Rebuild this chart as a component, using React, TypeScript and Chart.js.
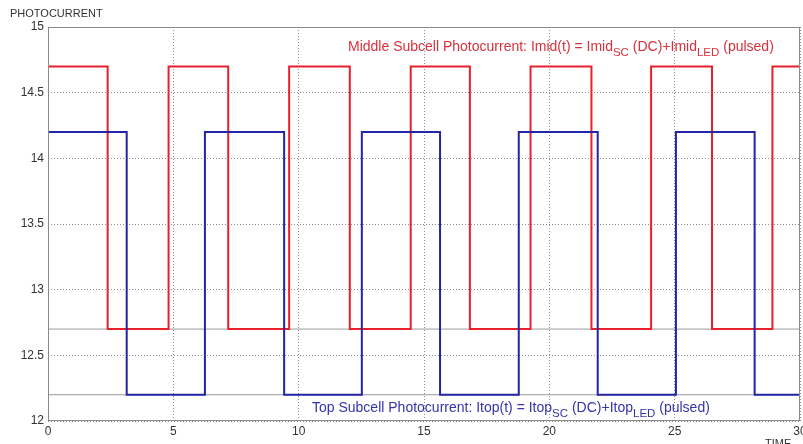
import React, { useEffect, useRef } from "react";
import { Chart, registerables } from "chart.js";
Chart.register(...registerables);

// Middle subcell (red) transition times and levels
const redTimes = [0, 2.38, 4.81, 7.19, 9.62, 12.04, 14.47, 16.83, 19.25, 21.68, 24.06, 26.49, 28.9, 30];
const redLevels = [14.7, 12.7, 14.7, 12.7, 14.7, 12.7, 14.7, 12.7, 14.7, 12.7, 14.7, 12.7, 14.7, 14.7];
// Top subcell (blue) transition times and levels
const blueTimes = [0, 3.14, 6.26, 9.42, 12.52, 15.64, 18.78, 21.93, 25.05, 28.19, 30];
const blueLevels = [14.2, 12.2, 14.2, 12.2, 14.2, 12.2, 14.2, 12.2, 14.2, 12.2, 12.2];
// DC reference levels
const refLevels = [12.7, 12.2];
const xRange = [0, 30];
const xTicks = [0, 5, 10, 15, 20, 25, 30];
const yTicks = [12, 12.5, 13, 13.5, 14, 14.5, 15];

const yTitle = "PHOTOCURRENT";
const xTitle = "TIME";
const redLabel: [string, boolean][] = [
  ["Middle Subcell Photocurrent: Imid(t) = Imid", false],
  ["SC", true],
  [" (DC)+Imid", false],
  ["LED", true],
  [" (pulsed)", false],
];
const blueLabel: [string, boolean][] = [
  ["Top Subcell Photocurrent: Itop(t) = Itop", false],
  ["SC", true],
  [" (DC)+Itop", false],
  ["LED", true],
  [" (pulsed)", false],
];

const FONT = "'Liberation Sans', Arial, sans-serif";
const RED = "#e8202c";
const BLUE = "#2424a6";

function drawRich(ctx: CanvasRenderingContext2D, x: number, y: number, segs: [string, boolean][], color: string) {
  ctx.fillStyle = color;
  ctx.textBaseline = "alphabetic";
  ctx.textAlign = "left";
  let cx = x;
  for (const [t, sub] of segs) {
    ctx.font = sub ? `11.5px ${FONT}` : `14px ${FONT}`;
    ctx.fillText(t, cx, sub ? y + 5 : y);
    cx += ctx.measureText(t).width;
  }
}

const overlay = {
  id: "overlay",
  afterDraw(chart: any) {
    const { ctx, chartArea: a } = chart;
    ctx.save();
    ctx.setLineDash([]);
    ctx.strokeStyle = "#8a8a8a";
    ctx.lineWidth = 1;
    ctx.strokeRect(Math.round(a.left) + 0.5, Math.round(a.top) + 0.5, Math.round(a.width) - 1, Math.round(a.height) - 1);
    ctx.fillStyle = "#333";
    ctx.font = `11px ${FONT}`;
    ctx.textAlign = "left";
    ctx.textBaseline = "alphabetic";
    ctx.fillText(yTitle, 10, 17);
    ctx.textBaseline = "top";
    ctx.fillText(xTitle, 765, 438);
    drawRich(ctx, 348, 51, redLabel, "#d9303c");
    drawRich(ctx, 312, 412, blueLabel, "#3434a8");
    ctx.restore();
  },
};

export default function App() {
  const ref = useRef<HTMLCanvasElement>(null);
  useEffect(() => {
    document.body.style.margin = "0";
    const refSets = refLevels.map((lv) => ({
      data: xRange.map((x) => ({ x, y: lv })),
      borderColor: "#9a9a9a",
      borderWidth: 1,
      pointRadius: 0,
      order: 3,
    }));
    const chart = new Chart(ref.current!, {
      type: "line",
      data: {
        datasets: [
          ...refSets,
          {
            data: blueTimes.map((x, i) => ({ x, y: blueLevels[i] })),
            borderColor: BLUE,
            borderWidth: 2,
            pointRadius: 0,
            stepped: true,
            order: 1,
          },
          {
            data: redTimes.map((x, i) => ({ x, y: redLevels[i] })),
            borderColor: RED,
            borderWidth: 2,
            pointRadius: 0,
            stepped: true,
            order: 2,
          },
        ] as any,
      },
      options: {
        animation: false,
        responsive: false,
        layout: { padding: { top: 27, right: 3, left: 0, bottom: 0 } },
        plugins: { legend: { display: false }, tooltip: { enabled: false } },
        scales: {
          x: {
            type: "linear",
            min: xRange[0],
            max: xRange[1],
            afterBuildTicks: (s: any) => {
              s.ticks = xTicks.map((v) => ({ value: v }));
            },
            afterFit: (s: any) => {
              s.height = 23;
              s.paddingLeft = 0;
              s.paddingRight = 0;
            },
            ticks: { color: "#333", font: { family: FONT, size: 12 }, padding: 3, maxRotation: 0, autoSkip: false, callback: (v: any) => `${v}` },
            grid: { color: "#8c8c8c", lineWidth: 1, drawTicks: false },
            border: { display: false, dash: [1, 2] },
          },
          y: {
            type: "linear",
            min: 12,
            max: 15,
            afterBuildTicks: (s: any) => {
              s.ticks = yTicks.map((v) => ({ value: v }));
            },
            afterFit: (s: any) => {
              s.width = 48;
              s.paddingTop = 0;
              s.paddingBottom = 0;
            },
            ticks: { color: "#333", font: { family: FONT, size: 12 }, padding: 4, autoSkip: false, callback: (v: any) => `${v}` },
            grid: { color: "#8c8c8c", lineWidth: 1, drawTicks: false },
            border: { display: false, dash: [1, 2] },
          },
        },
      },
      plugins: [overlay],
    });
    return () => chart.destroy();
  }, []);
  return (
    <div style={{ position: "absolute", left: 0, top: 0, width: 803, height: 444, background: "#fff" }}>
      <canvas ref={ref} width={803} height={444} style={{ width: 803, height: 444 }} />
    </div>
  );
}
